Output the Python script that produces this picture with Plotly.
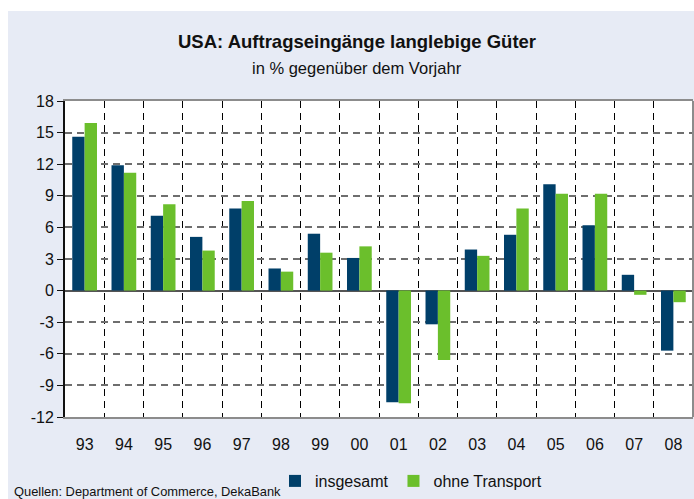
import plotly.graph_objects as go

years = ["93", "94", "95", "96", "97", "98", "99", "00", "01", "02", "03", "04", "05", "06", "07", "08"]
insgesamt = [14.6, 11.9, 7.1, 5.1, 7.8, 2.1, 5.4, 3.1, -10.6, -3.2, 3.9, 5.3, 10.1, 6.2, 1.5, -5.7]
ohne_transport = [15.9, 11.2, 8.2, 3.8, 8.5, 1.8, 3.6, 4.2, -10.7, -6.6, 3.3, 7.8, 9.2, 9.2, -0.4, -1.1]
y_ticks = [-12, -9, -6, -3, 0, 3, 6, 9, 12, 15, 18]
y_ticktext = [str(v) for v in y_ticks]

W, H = 694, 499
ML, MR, MT, MB = 65, 1, 101, 82
PW, PH = W - ML - MR, H - MT - MB


def px(x):
    return (x - ML) / PW


def py(y):
    return (H - MB - y) / PH


NAVY = "#003F69"
GREEN = "#6BBF2C"
BG = "#E7EBF5"
FONT = "Liberation Sans, Arial, sans-serif"

fig = go.Figure()
fig.add_bar(x=years, y=insgesamt, name="insgesamt", marker_color=NAVY, marker_line_width=0)
fig.add_bar(x=years, y=ohne_transport, name="ohne Transport", marker_color=GREEN, marker_line_width=0)

fig.update_layout(
    width=W, height=H,
    margin=dict(l=ML, r=MR, t=MT, b=MB, pad=0),
    paper_bgcolor=BG,
    plot_bgcolor="white",
    barmode="group",
    bargap=0.37,
    bargroupgap=0,
    font=dict(family=FONT, color="#111111", size=16),
    legend=dict(orientation="h", x=px(275), y=py(481), xanchor="left", yanchor="middle",
                font=dict(size=16, family=FONT, color="#111111"), bgcolor="rgba(0,0,0,0)",
                itemwidth=30, tracegroupgap=0),
    showlegend=True,
)

fig.update_xaxes(
    type="category",
    tickson="boundaries",
    showgrid=True, gridcolor="#000000", gridwidth=1, griddash="7px,5px",
    showline=True, linecolor="#8C8C8C", linewidth=2, mirror=True,
    ticks="", ticklabelstandoff=12,
    tickfont=dict(size=16, color="#111111"),
    zeroline=False,
)
fig.update_yaxes(
    range=[-12, 18],
    tickvals=y_ticks, ticktext=y_ticktext,
    showgrid=True, gridcolor="#6E6E6E", gridwidth=2, griddash="7px,5px",
    showline=True, linecolor="#111111", linewidth=2,
    ticks="outside", ticklen=6, tickcolor="#111111", tickwidth=1,
    tickfont=dict(size=16, color="#111111"),
    zeroline=True, zerolinecolor="#555555", zerolinewidth=2,
)

# white margins around the tinted card
fig.add_shape(type="rect", xref="paper", yref="paper", x0=px(0), x1=px(W), y0=py(11), y1=py(0),
              fillcolor="white", line_width=0, layer="above")
fig.add_shape(type="rect", xref="paper", yref="paper", x0=px(0), x1=px(8), y0=py(H), y1=py(0),
              fillcolor="white", line_width=0, layer="above")
# gray right edge of the plot frame
fig.add_shape(type="line", xref="paper", yref="paper", x0=1, x1=1, y0=0, y1=1,
              line=dict(color="#8C8C8C", width=2), layer="above")

fig.add_annotation(text="<b>USA: Auftragseingänge langlebige Güter</b>", xref="paper", yref="paper",
                   x=px(357), y=py(42), showarrow=False, xanchor="center", yanchor="middle",
                   font=dict(size=18.5, family=FONT, color="#111111"))
fig.add_annotation(text="in % gegenüber dem Vorjahr", xref="paper", yref="paper",
                   x=px(357), y=py(68), showarrow=False, xanchor="center", yanchor="middle",
                   font=dict(size=16.5, family=FONT, color="#111111"))
fig.add_annotation(text="Quellen: Department of Commerce, DekaBank", xref="paper", yref="paper",
                   x=px(12), y=py(491), showarrow=False, xanchor="left", yanchor="middle",
                   font=dict(size=12.9, family=FONT, color="#111111"))

fig.write_html("out.html", config={"displayModeBar": False},
               post_script="document.body.style.margin='0px';document.body.style.overflow='hidden';")
